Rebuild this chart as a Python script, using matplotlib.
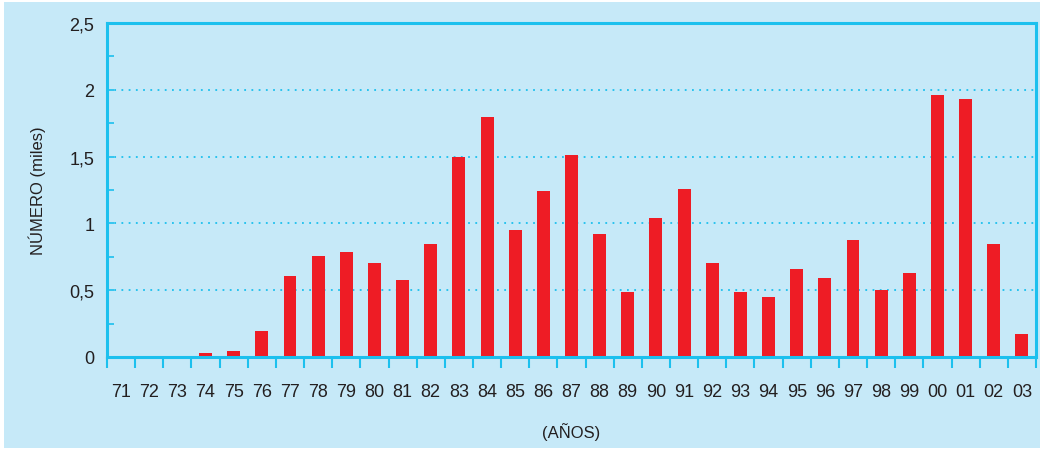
import matplotlib.pyplot as plt
import numpy as np
from matplotlib.patches import Rectangle
from matplotlib.ticker import FixedLocator, MultipleLocator

years = ["71", "72", "73", "74", "75", "76", "77", "78", "79", "80", "81",
         "82", "83", "84", "85", "86", "87", "88", "89", "90", "91", "92",
         "93", "94", "95", "96", "97", "98", "99", "00", "01", "02", "03"]
counts = [0, 0, 0, 0.03, 0.045, 0.195, 0.61, 0.755, 0.785, 0.705, 0.575,
          0.845, 1.495, 1.80, 0.95, 1.24, 1.51, 0.92, 0.485, 1.04, 1.255, 0.70,
          0.487, 0.45, 0.66, 0.59, 0.875, 0.50, 0.63, 1.96, 1.93, 0.845, 0.17]
yticks = [0, 0.5, 1, 1.5, 2, 2.5]
ytick_labels = ["0", "0,5", "1", "1,5", "2", "2,5"]

BG = "#c6e9f8"
EDGE = "#1cc0ee"
RED = "#ee1c25"
TXT = "#231f20"

plt.rcParams["font.family"] = ["Liberation Sans", "DejaVu Sans"]

fig = plt.figure(figsize=(10.44, 4.52), dpi=100, facecolor="white")
fig.patches.append(Rectangle((4 / 1044, 3 / 452), 1036 / 1044, 446 / 452,
                             transform=fig.transFigure, facecolor=BG,
                             edgecolor="none", zorder=-10))
ax = fig.add_axes([107 / 1044, 1 - 358 / 452, 929 / 1044, 334 / 452])
ax.set_facecolor(BG)

x = np.arange(len(years))
ax.bar(x, counts, width=0.46, color=RED, zorder=3)
ax.set_xlim(-0.5, len(years) - 0.5)
ax.set_ylim(0, 2.5)

ax.set_xticks(x)
ax.set_xticklabels(years, fontsize=13, color=TXT)
ax.xaxis.set_minor_locator(FixedLocator(np.arange(len(years) + 1) - 0.5))
ax.tick_params(axis="x", which="major", length=0, pad=19)
ax.tick_params(axis="x", which="minor", length=8, width=1.5, color=EDGE,
               direction="out")

ax.set_yticks(yticks)
ax.set_yticklabels(ytick_labels, fontsize=13, color=TXT)
ax.yaxis.set_minor_locator(MultipleLocator(0.25))
ax.tick_params(axis="y", which="both", length=5, width=1.2, color=EDGE,
               direction="in", pad=9)

for v in yticks[1:-1]:
    ax.axhline(v, color=EDGE, lw=1.3, ls=(0, (1, 3)), zorder=1)

for side in ["left", "bottom", "top", "right"]:
    ax.spines[side].set_color(EDGE)
    ax.spines[side].set_linewidth(2.2)
ax.spines["bottom"].set_zorder(4)

fig.text(37 / 1044, 1 - 191 / 452, "NÚMERO (miles)", rotation=90,
         fontsize=12, color=TXT, ha="center", va="center")
fig.text(571 / 1044, 1 - 432 / 452, "(AÑOS)", fontsize=12, color=TXT,
         ha="center", va="center")

fig.savefig("out.png", dpi=100, facecolor="white")
